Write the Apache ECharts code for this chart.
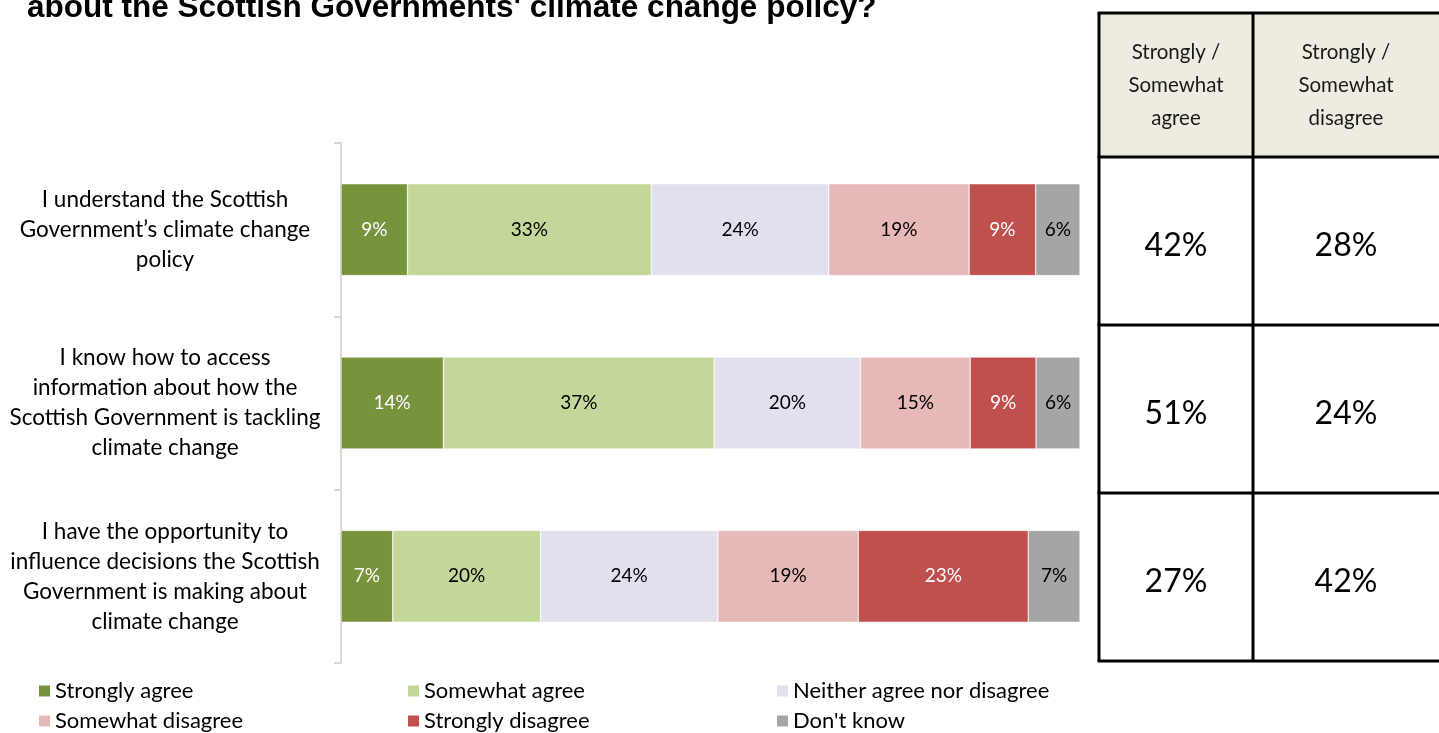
<!DOCTYPE html>
<html>
<head>
<meta charset="utf-8">
<script src="https://cdn.jsdelivr.net/npm/echarts@6/dist/echarts.min.js"></script>
<style>
html,body{margin:0;padding:0;background:#fff;}
#chart{width:1439px;height:733px;}
</style>
</head>
<body>
<div id="chart"></div>
<script>
// ---- data ----
const titleText = "about the Scottish Governments' climate change policy?";
const categories = [
  'I understand the Scottish\nGovernment’s climate change\npolicy',
  'I know how to access\ninformation about how the\nScottish Government is tackling\nclimate change',
  'I have the opportunity to\ninfluence decisions the Scottish\nGovernment is making about\nclimate change'
];
const seriesNames = ['Strongly agree', 'Somewhat agree', 'Neither agree nor disagree', 'Somewhat disagree', 'Strongly disagree', "Don't know"];
const stronglyAgree = [9, 14, 7];
const somewhatAgree = [33, 37, 20];
const neither = [24, 20, 24];
const somewhatDisagree = [19, 15, 19];
const stronglyDisagree = [9, 9, 23];
const dontKnow = [6, 6, 7];
const tableHeaders = ['Strongly /\nSomewhat\nagree', 'Strongly /\nSomewhat\ndisagree'];
const netAgree = [42, 51, 27];
const netDisagree = [28, 24, 42];

// ---- styles ----
const colors = ['#77933C', '#C4D79B', '#E4DFEC', '#E6B9B8', '#C0504D', '#A5A5A5'];
const labelColors = ['#FFFFFF', '#000000', '#000000', '#000000', '#FFFFFF', '#000000'];
const FONT = 'Lato, "Open Sans", sans-serif';

const allSeries = [stronglyAgree, somewhatAgree, neither, somewhatDisagree, stronglyDisagree, dontKnow];
const rowSums = categories.map((_, r) => allSeries.reduce((s, arr) => s + arr[r], 0));

const chart = echarts.init(document.getElementById('chart'), null, {renderer: 'canvas'});

const series = allSeries.map((arr, i) => ({
  name: seriesNames[i],
  type: 'bar',
  stack: 'total',
  barWidth: '53%',
  itemStyle: {color: colors[i], borderColor: '#ffffff', borderWidth: 0.5},
  label: {
    show: true,
    position: 'inside',
    color: labelColors[i],
    fontFamily: FONT,
    fontSize: 19,
    formatter: p => p.data.raw + '%'
  },
  data: arr.map((v, r) => ({value: v / rowSums[r] * 100, raw: v}))
}));

// table graphics
const tX0 = 1099, tX1 = 1253, tX2 = 1445;
const rowLines = [13, 157, 325, 493, 661];
const graphics = [];
graphics.push({type: 'text', left: 27, top: -8, style: {text: titleText, font: 'bold 31.5px "Liberation Sans", Arial, sans-serif', fill: '#000'}});
graphics.push({type: 'rect', shape: {x: tX0, y: rowLines[0], width: tX2 - tX0, height: rowLines[1] - rowLines[0]}, style: {fill: '#EEECE1'}});
const cx = [(tX0 + tX1) / 2, (tX1 + 1439) / 2];
tableHeaders.forEach((h, i) => {
  graphics.push({type: 'text', style: {text: h, x: cx[i], y: (rowLines[0] + rowLines[1]) / 2, align: 'center', verticalAlign: 'middle', font: '20.5px ' + FONT, fill: '#1a1a1a', lineHeight: 33}});
});
[netAgree, netDisagree].forEach((col, ci) => {
  col.forEach((v, r) => {
    graphics.push({type: 'text', style: {text: v + '%', x: cx[ci], y: (rowLines[r + 1] + rowLines[r + 2]) / 2 + 5, align: 'center', verticalAlign: 'middle', font: '32px ' + FONT, fill: '#000'}});
  });
});
rowLines.forEach(y => {
  graphics.push({type: 'line', shape: {x1: tX0 - 1.5, y1: y, x2: tX2, y2: y}, style: {stroke: '#000', lineWidth: 3}});
});
[tX0, tX1].forEach(x => {
  graphics.push({type: 'line', shape: {x1: x, y1: rowLines[0], x2: x, y2: rowLines[rowLines.length - 1]}, style: {stroke: '#000', lineWidth: 3}});
});

const legendLefts = [37, 406, 775];
const legendTops = [680, 710];
const legends = seriesNames.map((n, i) => ({
  orient: 'horizontal',
  left: legendLefts[i % 3],
  top: legendTops[Math.floor(i / 3)],
  padding: 0,
  itemWidth: 13,
  itemHeight: 13,
  icon: 'rect',
  selectedMode: false,
  textStyle: {fontFamily: FONT, fontSize: 22, color: '#000', padding: [0, 0, 0, -1]},
  data: [n]
}));

chart.setOption({
  animation: false,
  backgroundColor: '#ffffff',
  grid: {left: 341, right: 359, top: 143, bottom: 70, containLabel: false},
  xAxis: {type: 'value', min: 0, max: 100, show: false},
  yAxis: {
    type: 'category',
    inverse: true,
    data: categories,
    axisLine: {show: true, lineStyle: {color: '#D9D9D9', width: 2}},
    axisTick: {show: true, length: 7, lineStyle: {color: '#D9D9D9', width: 2}},
    axisLabel: {
      align: 'center',
      margin: 176,
      fontFamily: FONT,
      fontSize: 22.5,
      lineHeight: 30,
      color: '#000'
    }
  },
  legend: legends,
  graphic: graphics,
  series: series
});
</script>
</body>
</html>
